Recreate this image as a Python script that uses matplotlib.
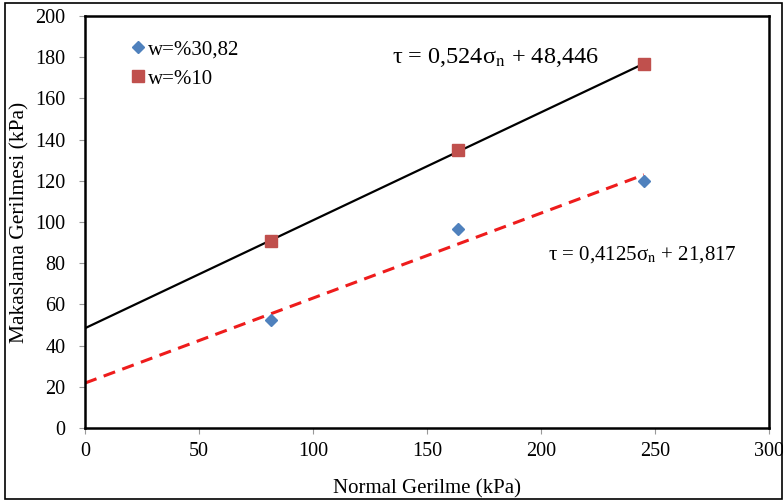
import numpy as np
import matplotlib.pyplot as plt
from matplotlib.patches import Rectangle

plt.rcParams['font.family'] = ['Liberation Serif', 'DejaVu Serif']
plt.rcParams['mathtext.fontset'] = 'stix'

# normal stress values (kPa)
normal_stress = [81.7, 163.4, 245.1]
# shear stress for the two water contents
shear_w3082 = [52.5, 96.5, 120.0]
shear_w10 = [91.0, 135.0, 176.5]

# fitted lines: slope, intercept
fit_w10 = (0.524, 48.446)
fit_w3082 = (0.4125, 21.817)
fit_x = [0, 245.1]

fig = plt.figure(figsize=(7.83, 5), dpi=100)
ax = fig.add_axes([0.1086, 0.144, 0.8736, 0.824])

xs = np.array(fit_x)
ax.plot(xs, fit_w10[0] * xs + fit_w10[1], color='black', lw=1.6, zorder=2)
ax.plot(xs, fit_w3082[0] * xs + fit_w3082[1], color='#ee1c1c', lw=2.2,
        ls=(0, (4, 2.5)), zorder=2)

ax.plot(normal_stress, shear_w3082, ls='none', marker='D', ms=6.5,
        color='#4f81bd', label='w=%30,82', zorder=3)
ax.plot(normal_stress, shear_w10, ls='none', marker='s', ms=9,
        color='#c0504d', label='w=%10', zorder=3)

ax.set_xlim(0, 300)
ax.set_ylim(0, 200)
ax.set_xticks(range(0, 301, 50))
ax.set_yticks(range(0, 201, 20))
ax.tick_params(axis='both', direction='out', length=4, color='#999999',
               labelsize=14.5)
ax.tick_params(axis='x', pad=6)
ax.tick_params(axis='y', pad=10)
for s in ax.spines.values():
    s.set_linewidth(1.8)

ax.set_xlabel('Normal Gerilme (kPa)', fontsize=15, labelpad=13)
ax.set_ylabel('Makaslama Gerilmesi (kPa)', fontsize=15.5, labelpad=4)

ax.legend(loc='upper left', frameon=False, fontsize=15, handletextpad=0.0,
          handlelength=1.0, borderaxespad=0.0, labelspacing=0.45,
          bbox_to_anchor=(0.05, 0.962))

ax.text(134.5, 180, r'τ = 0,524σ$_\mathrm{n}$ + 48,446', fontsize=17.5,
        ha='left', va='center')
ax.text(203, 84, r'τ = 0,4125σ$_\mathrm{n}$ + 21,817', fontsize=15,
        ha='left', va='center')

fig.patches.append(Rectangle((0.006, 0.002), 0.993, 0.992, transform=fig.transFigure,
                             fill=False, edgecolor='black', lw=1.2))

fig.savefig('out.png', dpi=100)
